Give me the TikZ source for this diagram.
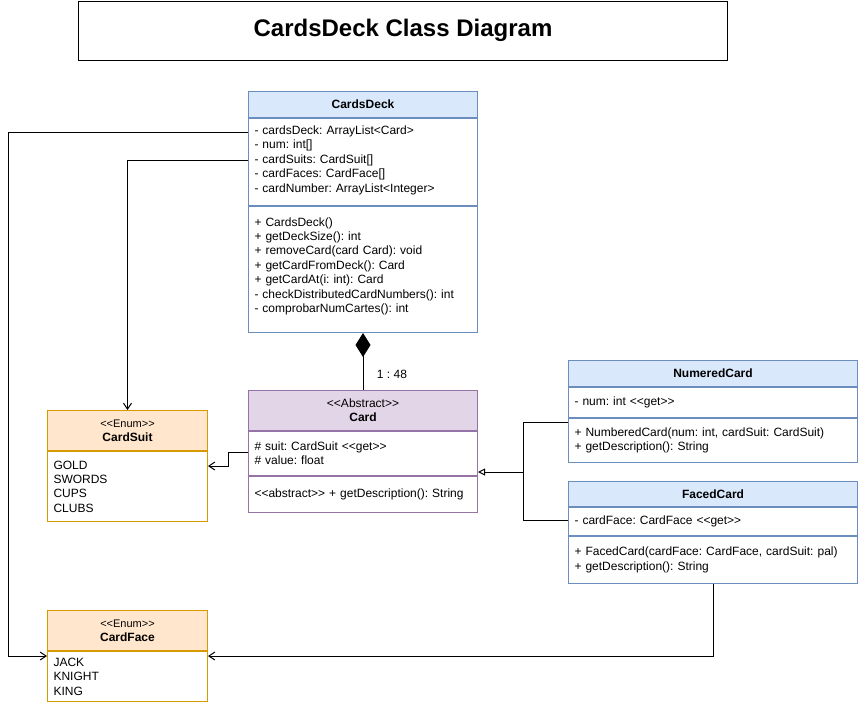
\documentclass[tikz,border=0pt]{standalone}
\usepackage{fontspec}
\setmainfont{Liberation Sans}
\usetikzlibrary{arrows.meta}
\definecolor{blueF}{HTML}{DAE8FC}
\definecolor{blueS}{HTML}{6C8EBF}
\definecolor{orF}{HTML}{FFE6CC}
\definecolor{orS}{HTML}{D79B00}
\definecolor{puF}{HTML}{E1D5E7}
\definecolor{puS}{HTML}{9673A6}
\newcommand{\stO}{<\kern0pt<}
\newcommand{\stC}{>\kern0pt>}
\frenchspacing
\begin{document}
\begin{tikzpicture}[x=1pt,y=-1pt,
  txt/.style={font=\fontsize{12}{14.4}\selectfont},
  cell/.style={draw, rectangle, line width=1pt, inner sep=0pt, anchor=north west, txt},
  hdr/.style={cell, align=center, font=\fontsize{12}{14}\selectfont\bfseries},
  body/.style={cell, fill=white, align=left, inner xsep=6pt},
  blue/.style={draw=blueS}, orange/.style={draw=orS}, purple/.style={draw=puS},
  dep/.style={line width=1pt, -{Straight Barb[length=6pt,width=8pt]}},
  inh/.style={line width=1pt, -{Triangle[open,length=7pt,width=7pt]}},
  plain/.style={line width=1pt},
  compo/.style={line width=1pt, {Diamond[length=24pt,width=15pt]}-}
]
\useasboundingbox (0,0) rectangle (858,704);

% title
\node[draw, line width=1pt, rectangle, anchor=north west, minimum width=649pt, minimum height=59.5pt,
  font=\fontsize{24}{28}\selectfont\bfseries] (title) at (78,0.5) {CardsDeck Class Diagram};

% CardsDeck
\node[hdr, blue, fill=blueF, minimum width=229pt, minimum height=26pt] (cdH) at (248,91) {CardsDeck};
\node[body, blue, text width=217pt, minimum height=87pt] (cdA) at (cdH.south west)
 {- cardsDeck: ArrayList<Card>\\- num: int[]\\- cardSuits: CardSuit[]\\- cardFaces: CardFace[]\\- cardNumber: ArrayList<Integer>\rule[-6pt]{0pt}{1pt}};
\node[body, blue, text width=217pt, minimum height=126pt] (cdM) at (cdA.south west)
 {+ CardsDeck()\\+ getDeckSize(): int\\+ removeCard(card Card): void\\+ getCardFromDeck(): Card\\+ getCardAt(i: int): Card\\- checkDistributedCardNumbers(): int\\- comprobarNumCartes(): int\rule[-9pt]{0pt}{1pt}};

% Card
\node[hdr, purple, fill=puF, minimum width=229pt, minimum height=40pt] (cardH) at (248,390)
 {{\mdseries \stO Abstract\stC}\\Card};
\node[body, purple, text width=217pt, minimum height=44pt] (cardA) at (cardH.south west)
 {\# suit: CardSuit \stO get\stC\\\# value: float};
\node[body, purple, text width=217pt, minimum height=36pt] (cardM) at (cardA.south west)
 {\stO abstract\stC{} + getDescription(): String};

% CardSuit
\node[hdr, orange, fill=orF, minimum width=160pt, minimum height=40pt] (csH) at (47,410)
 {{\mdseries\fontsize{11}{13}\selectfont \stO Enum\stC}\\CardSuit};
\node[body, orange, text width=148pt, minimum height=70pt] (csI) at (csH.south west)
 {GOLD\\SWORDS\\CUPS\\CLUBS};

% CardFace
\node[hdr, orange, fill=orF, minimum width=160pt, minimum height=40pt] (cfH) at (47,610)
 {{\mdseries\fontsize{11}{13}\selectfont \stO Enum\stC}\\CardFace};
\node[body, orange, text width=148pt, minimum height=50pt] (cfI) at (cfH.south west)
 {JACK\\KNIGHT\\KING};

% NumeredCard
\node[hdr, blue, fill=blueF, minimum width=289pt, minimum height=26pt] (nmH) at (568,360) {NumeredCard};
\node[body, blue, text width=277pt, minimum height=30pt] (nmA) at (nmH.south west)
 {- num: int \stO get\stC};
\node[body, blue, text width=277pt, minimum height=44pt] (nmM) at (nmA.south west)
 {+ NumberedCard(num: int, cardSuit: CardSuit)\\+ getDescription(): String};

% FacedCard
\node[hdr, blue, fill=blueF, minimum width=289pt, minimum height=25pt] (fcH) at (568,481) {FacedCard};
\node[body, blue, text width=277pt, minimum height=28pt] (fcA) at (fcH.south west)
 {- cardFace: CardFace \stO get\stC};
\node[body, blue, text width=277pt, minimum height=47pt] (fcM) at (fcA.south west)
 {+ FacedCard(cardFace: CardFace, cardSuit: pal)\\+ getDescription(): String};

% connectors
\draw[dep] ([yshift=-14pt]cdA.north west) -| ([xshift=-39pt,yshift=-5pt]cfI.north west) -- ([yshift=-5pt]cfI.north west);
\draw[dep] ([yshift=-42pt]cdA.north west) -| (csH.north);
\draw[compo] (cdM.south) -- (cardH.north);
\node[txt] (mult) at (392,374) {1 : 48};
\draw[dep] ([yshift=-21pt]cardA.north west) -- ++(-20,0) |- ([yshift=-15pt]csI.north east);
\draw[inh] ([yshift=-4pt]nmM.north west) -| ([xshift=45pt,yshift=4pt]cardA.south east) -- ([yshift=4pt]cardA.south east);
\draw[plain] ([yshift=-13pt]fcA.north west) -| ([xshift=45pt,yshift=4pt]cardA.south east);
\draw[dep] ([xshift=145pt]fcM.south west) |- ([yshift=-5pt]cfI.north east);
\end{tikzpicture}
\end{document}
